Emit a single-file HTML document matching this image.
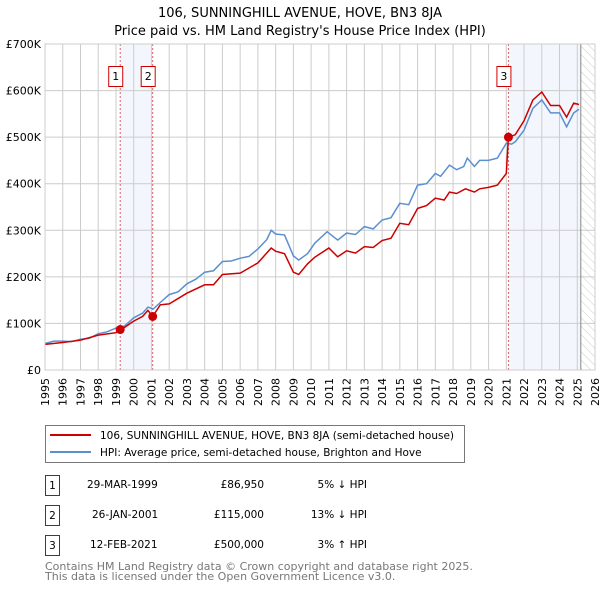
<!DOCTYPE html>
<html><head><meta charset="utf-8"><style>
body{margin:0;background:#fff;font-family:"DejaVu Sans","Liberation Sans",sans-serif}
svg{display:block}
</style></head><body>
<svg width="600" height="590" xmlns="http://www.w3.org/2000/svg" font-family="DejaVu Sans, Liberation Sans, sans-serif">
<defs><pattern id="hatch" width="6" height="6" patternUnits="userSpaceOnUse" patternTransform="rotate(-45)"><line x1="0" y1="0" x2="0" y2="6" stroke="#ccc" stroke-width="1"/></pattern></defs>
<text x="300" y="17" text-anchor="middle" font-size="13">106, SUNNINGHILL AVENUE, HOVE, BN3 8JA</text>
<text x="300" y="35" text-anchor="middle" font-size="13">Price paid vs. HM Land Registry's House Price Index (HPI)</text>
<g id="plot"></g>
<g>
<rect x="45.5" y="425.5" width="419" height="37" fill="#fff" stroke="#777"/>
<line x1="50" y1="435" x2="91" y2="435" stroke="#cc0000" stroke-width="2"/>
<text x="100" y="439" font-size="10.5">106, SUNNINGHILL AVENUE, HOVE, BN3 8JA (semi-detached house)</text>
<line x1="50" y1="452" x2="91" y2="452" stroke="#5b8fd0" stroke-width="2"/>
<text x="100" y="456" font-size="10.5">HPI: Average price, semi-detached house, Brighton and Hove</text>
</g>
<g font-size="10.5">
<rect x="45.5" y="475.5" width="14" height="20" fill="#fff" stroke="#cc0000"/><text x="52.5" y="489" text-anchor="middle">1</text>
<text x="87" y="488">29-MAR-1999</text><text x="264" y="488" text-anchor="end">£86,950</text><text x="367" y="488" text-anchor="end">5% ↓ HPI</text>
<rect x="45.5" y="505.5" width="14" height="20" fill="#fff" stroke="#cc0000"/><text x="52.5" y="519" text-anchor="middle">2</text>
<text x="92" y="518">26-JAN-2001</text><text x="264" y="518" text-anchor="end">£115,000</text><text x="367" y="518" text-anchor="end">13% ↓ HPI</text>
<rect x="45.5" y="535.5" width="14" height="20" fill="#fff" stroke="#cc0000"/><text x="52.5" y="549" text-anchor="middle">3</text>
<text x="90" y="548">12-FEB-2021</text><text x="264" y="548" text-anchor="end">£500,000</text><text x="367" y="548" text-anchor="end">3% ↑ HPI</text>
</g>
<text x="45" y="570" font-size="11" fill="#777">Contains HM Land Registry data © Crown copyright and database right 2025.</text>
<text x="45" y="580" font-size="11" fill="#777">This data is licensed under the Open Government Licence v3.0.</text>
</svg>
<script>
const yTicks=[0,100,200,300,400,500,600,700];
const yTickLabels=["£0","£100K","£200K","£300K","£400K","£500K","£600K","£700K"];
const years=[1995,1996,1997,1998,1999,2000,2001,2002,2003,2004,2005,2006,2007,2008,2009,2010,2011,2012,2013,2014,2015,2016,2017,2018,2019,2020,2021,2022,2023,2024,2025,2026];
const hpiT=[1995,1995.5,1996,1996.5,1997,1997.5,1998,1998.5,1999,1999.5,2000,2000.5,2000.8,2001.1,2001.5,2002,2002.5,2003,2003.5,2004,2004.5,2005,2005.5,2006,2006.5,2007,2007.5,2007.75,2008,2008.5,2009,2009.3,2009.8,2010.2,2010.9,2011.5,2012,2012.5,2013,2013.5,2014,2014.5,2015,2015.5,2016,2016.5,2017,2017.3,2017.8,2018.2,2018.6,2018.8,2019.2,2019.5,2020,2020.5,2021,2021.3,2021.5,2022,2022.5,2023,2023.5,2024,2024.4,2024.8,2025.1];
const hpiV=[57,62,62,61,66,68,78,82,90,95,112,122,135,131,145,162,168,185,195,210,213,233,234,240,244,260,280,300,292,290,245,236,250,272,297,279,294,291,308,303,322,327,358,355,397,400,422,416,440,430,437,455,437,450,450,455,487,485,490,515,562,580,552,552,522,552,560];
const redT=[1995,1996,1997,1998,1999,1999.25,1999.5,2000,2000.5,2000.8,2001.07,2001.5,2002,2003,2004,2004.5,2005,2006,2007,2007.75,2008,2008.5,2009,2009.3,2009.8,2010.2,2011,2011.5,2012,2012.5,2013,2013.5,2014,2014.5,2015,2015.5,2016,2016.5,2017,2017.5,2017.8,2018.2,2018.7,2019.2,2019.5,2020,2020.5,2021.0,2021.12,2021.5,2022,2022.5,2023,2023.5,2024,2024.4,2024.8,2025.1];
const redV=[55,59,64,75,80,87,92,105,115,128,115,140,142,165,183,183,205,208,230,262,255,250,210,205,228,242,262,243,256,251,265,263,278,283,315,312,347,353,369,365,382,379,389,382,389,392,397,422,500,505,535,580,597,568,568,543,573,570];
const sales=[{t:1999.24,v:86.95,l:"1"},{t:2001.07,v:115,l:"2"},{t:2021.12,v:500,l:"3"}];
const X=t=>45+(t-1995)*(550/31), Y=v=>370-v*(326/700);
const NS="http://www.w3.org/2000/svg",g=document.getElementById('plot');
function el(n,a,p){const e=document.createElementNS(NS,n);for(const k in a)e.setAttribute(k,a[k]);(p||g).appendChild(e);return e;}
let e;
e=el('rect',{x:X(1999.24),y:44,width:X(2001.07)-X(1999.24),height:326,fill:'#eef3fc',opacity:0.7});


e=el('rect',{x:X(2021.12),y:44,width:X(2025.2)-X(2021.12),height:326,fill:'#eef3fc',opacity:0.7});


e=el('rect',{x:X(2025.2),y:44,width:X(2026)-X(2025.2),height:326,fill:'url(#hatch)'});


years.forEach(y=>{e=el('line',{x1:X(y),x2:X(y),y1:44,y2:370,stroke:'#ccc'});


e=el('text',{x:0,y:0,transform:`translate(${X(y)+4},378) rotate(-90)`,'text-anchor':'end','font-size':11});e.textContent=y;

});
yTicks.forEach((v,i)=>{e=el('line',{x1:45,x2:595,y1:Y(v),y2:Y(v),stroke:'#ccc'});


e=el('text',{x:41,y:Y(v)+4,'text-anchor':'end','font-size':11});e.textContent=yTickLabels[i];

});
e=el('line',{x1:X(2025.2),x2:X(2025.2),y1:44,y2:370,stroke:'#888'});


sales.forEach(s=>{e=el('line',{x1:X(s.t),x2:X(s.t),y1:44,y2:370,stroke:'#e06060','stroke-dasharray':'2,2'});

});
const pts=(T,V)=>T.map((t,i)=>X(t).toFixed(1)+','+Y(V[i]).toFixed(1)).join(' ');
e=el('polyline',{points:pts(hpiT,hpiV),fill:'none',stroke:'#5b8fd0','stroke-width':1.5});


e=el('polyline',{points:pts(redT,redV),fill:'none',stroke:'#cc0000','stroke-width':1.5});


sales.forEach(s=>{e=el('circle',{cx:X(s.t),cy:Y(s.v),r:4.5,fill:'#cc0000'});


e=el('rect',{x:X(s.t)-11.5,y:66.5,width:14,height:20,fill:'#fff',stroke:'#cc0000'});


e=el('text',{x:X(s.t)-4.5,y:80,'text-anchor':'middle','font-size':11});e.textContent=s.l;

});
e=el('rect',{x:45,y:44,width:550,height:326,fill:'none',stroke:'#ccc'});


</script>
</body></html>
